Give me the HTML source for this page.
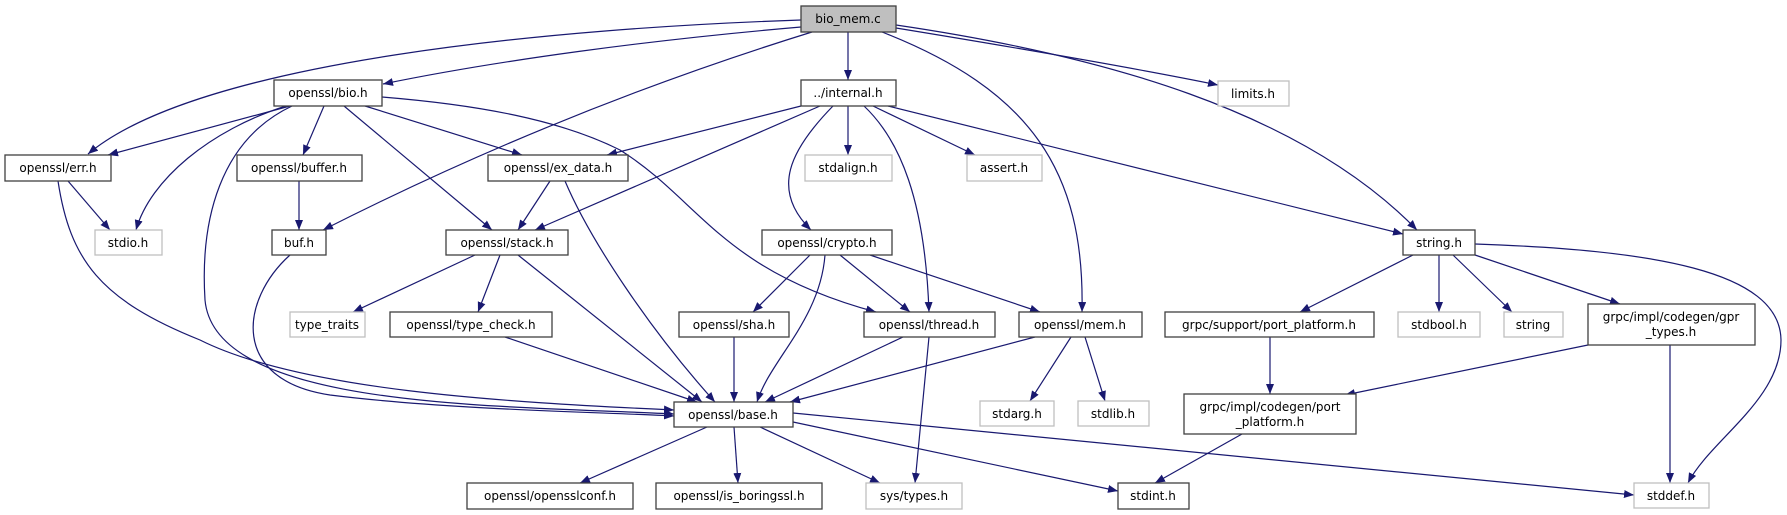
<!DOCTYPE html>
<html><head><meta charset="utf-8"><style>
html,body{margin:0;padding:0;background:#fff;}
svg{display:block}
text{font-family:"DejaVu Sans","Liberation Sans",sans-serif;font-size:12px;fill:#000;text-anchor:middle}
.e{fill:none;stroke:#191970;stroke-width:1.2;marker-end:url(#a)}
.b{fill:#fff;stroke:#404040;stroke-width:1.3}
.g{fill:#fff;stroke:#bfbfbf;stroke-width:1.3}
</style></head><body>
<svg width="1787" height="515" viewBox="0 0 1787 515" xmlns="http://www.w3.org/2000/svg">
<defs><marker id="a" markerUnits="userSpaceOnUse" markerWidth="11" markerHeight="9" refX="10" refY="4" orient="auto"><path d="M0,0 L10,4 L0,8 z" fill="#191970"/></marker></defs>
<path class="e" d="M801,20 C560,28 200,60 88,154"/>
<path class="e" d="M801,27 C650,40 500,60 383,84"/>
<path class="e" d="M812,32 Q560,110 323,230"/>
<path class="e" d="M848,32 L848,80"/>
<path class="e" d="M882,32 C1030,90 1085,170 1082,312"/>
<path class="e" d="M896,28 C1000,45 1120,65 1218,85"/>
<path class="e" d="M896,25 C1100,55 1300,110 1417,230"/>
<path class="e" d="M290,106 L108,155"/>
<path class="e" d="M286,106 C210,130 150,180 136,230"/>
<path class="e" d="M292,106 C220,140 200,220 205,300 C215,410 500,405 674,414"/>
<path class="e" d="M324,106 L303,155"/>
<path class="e" d="M344,106 L492,230"/>
<path class="e" d="M365,106 L522,155"/>
<path class="e" d="M382,97 C480,105 560,120 620,150 C700,200 720,270 876,312"/>
<path class="e" d="M801,106 L607,155"/>
<path class="e" d="M820,106 L535,230"/>
<path class="e" d="M833,106 C790,150 770,190 811,230"/>
<path class="e" d="M848,106 L848,155"/>
<path class="e" d="M864,106 C900,140 925,200 929,312"/>
<path class="e" d="M873,106 L975,155"/>
<path class="e" d="M888,106 L1403,234"/>
<path class="e" d="M68,181 L110,230"/>
<path class="e" d="M58,181 C70,260 100,300 200,340 C300,390 500,402 674,410"/>
<path class="e" d="M299,181 L299,230"/>
<path class="e" d="M550,181 L518,230"/>
<path class="e" d="M565,181 C590,240 650,330 715,402"/>
<path class="e" d="M290,255 C240,300 230,380 330,395 C450,410 600,412 674,416"/>
<path class="e" d="M475,255 L353,312"/>
<path class="e" d="M500,255 L478,312"/>
<path class="e" d="M518,255 L702,402"/>
<path class="e" d="M810,255 L753,312"/>
<path class="e" d="M825,255 C820,320 770,360 757,402"/>
<path class="e" d="M840,255 L910,312"/>
<path class="e" d="M870,255 L1040,312"/>
<path class="e" d="M505,337 L697,402"/>
<path class="e" d="M734,337 L734,402"/>
<path class="e" d="M903,337 L765,402"/>
<path class="e" d="M929,337 L915,483"/>
<path class="e" d="M1035,337 L790,402"/>
<path class="e" d="M1071,337 L1030,401"/>
<path class="e" d="M1085,337 L1105,401"/>
<path class="e" d="M707,427 L580,483"/>
<path class="e" d="M734,427 L738,483"/>
<path class="e" d="M760,427 L880,483"/>
<path class="e" d="M793,422 L1118,491"/>
<path class="e" d="M793,413 L1634,495"/>
<path class="e" d="M1413,255 L1300,312"/>
<path class="e" d="M1439,255 L1439,312"/>
<path class="e" d="M1453,255 L1512,312"/>
<path class="e" d="M1475,255 L1620,304"/>
<path class="e" d="M1475,244 C1650,250 1780,270 1781,340 C1781,400 1710,440 1688,483"/>
<path class="e" d="M1270,337 L1270,394"/>
<path class="e" d="M1588,345 L1345,395"/>
<path class="e" d="M1670,345 L1670,483"/>
<path class="e" d="M1242,434 L1155,483"/>
<rect x="801" y="6" width="95" height="26" fill="#bfbfbf" stroke="#404040" stroke-width="1.3"/><text x="848" y="23">bio_mem.c</text>
<rect class="b" x="274" y="80" width="108" height="26"/><text x="328" y="97">openssl/bio.h</text>
<rect class="b" x="801" y="80" width="95" height="26"/><text x="848" y="97">../internal.h</text>
<rect class="g" x="1218" y="81" width="71" height="25"/><text x="1253" y="98">limits.h</text>
<rect class="b" x="5" y="155" width="106" height="26"/><text x="58" y="172">openssl/err.h</text>
<rect class="b" x="237" y="155" width="125" height="26"/><text x="299" y="172">openssl/buffer.h</text>
<rect class="b" x="488" y="155" width="140" height="26"/><text x="558" y="172">openssl/ex_data.h</text>
<rect class="g" x="805" y="155" width="87" height="26"/><text x="848" y="172">stdalign.h</text>
<rect class="g" x="967" y="155" width="75" height="26"/><text x="1004" y="172">assert.h</text>
<rect class="g" x="95" y="230" width="67" height="25"/><text x="128" y="247">stdio.h</text>
<rect class="b" x="272" y="230" width="54" height="25"/><text x="299" y="247">buf.h</text>
<rect class="b" x="446" y="230" width="122" height="25"/><text x="507" y="247">openssl/stack.h</text>
<rect class="b" x="762" y="230" width="130" height="25"/><text x="827" y="247">openssl/crypto.h</text>
<rect class="b" x="1403" y="230" width="72" height="25"/><text x="1439" y="247">string.h</text>
<rect class="g" x="290" y="312" width="75" height="25"/><text x="327" y="329">type_traits</text>
<rect class="b" x="390" y="312" width="162" height="25"/><text x="471" y="329">openssl/type_check.h</text>
<rect class="b" x="679" y="312" width="110" height="25"/><text x="734" y="329">openssl/sha.h</text>
<rect class="b" x="864" y="312" width="131" height="25"/><text x="929" y="329">openssl/thread.h</text>
<rect class="b" x="1019" y="312" width="123" height="25"/><text x="1080" y="329">openssl/mem.h</text>
<rect class="b" x="1165" y="312" width="209" height="25"/><text x="1269" y="329">grpc/support/port_platform.h</text>
<rect class="g" x="1398" y="312" width="82" height="25"/><text x="1439" y="329">stdbool.h</text>
<rect class="g" x="1504" y="312" width="59" height="25"/><text x="1533" y="329">string</text>
<rect class="b" x="1588" y="304" width="167" height="41"/><text x="1671" y="321">grpc/impl/codegen/gpr</text><text x="1671" y="336">_types.h</text>
<rect class="b" x="674" y="402" width="119" height="25"/><text x="733" y="419">openssl/base.h</text>
<rect class="g" x="980" y="401" width="74" height="25"/><text x="1017" y="418">stdarg.h</text>
<rect class="g" x="1078" y="401" width="71" height="25"/><text x="1113" y="418">stdlib.h</text>
<rect class="b" x="1184" y="394" width="172" height="40"/><text x="1270" y="411">grpc/impl/codegen/port</text><text x="1270" y="426">_platform.h</text>
<rect class="b" x="467" y="483" width="166" height="26"/><text x="550" y="500">openssl/opensslconf.h</text>
<rect class="b" x="656" y="483" width="166" height="26"/><text x="739" y="500">openssl/is_boringssl.h</text>
<rect class="g" x="866" y="483" width="96" height="26"/><text x="914" y="500">sys/types.h</text>
<rect class="b" x="1118" y="483" width="71" height="26"/><text x="1153" y="500">stdint.h</text>
<rect class="g" x="1634" y="483" width="75" height="25"/><text x="1671" y="500">stddef.h</text>
</svg>
</body></html>
